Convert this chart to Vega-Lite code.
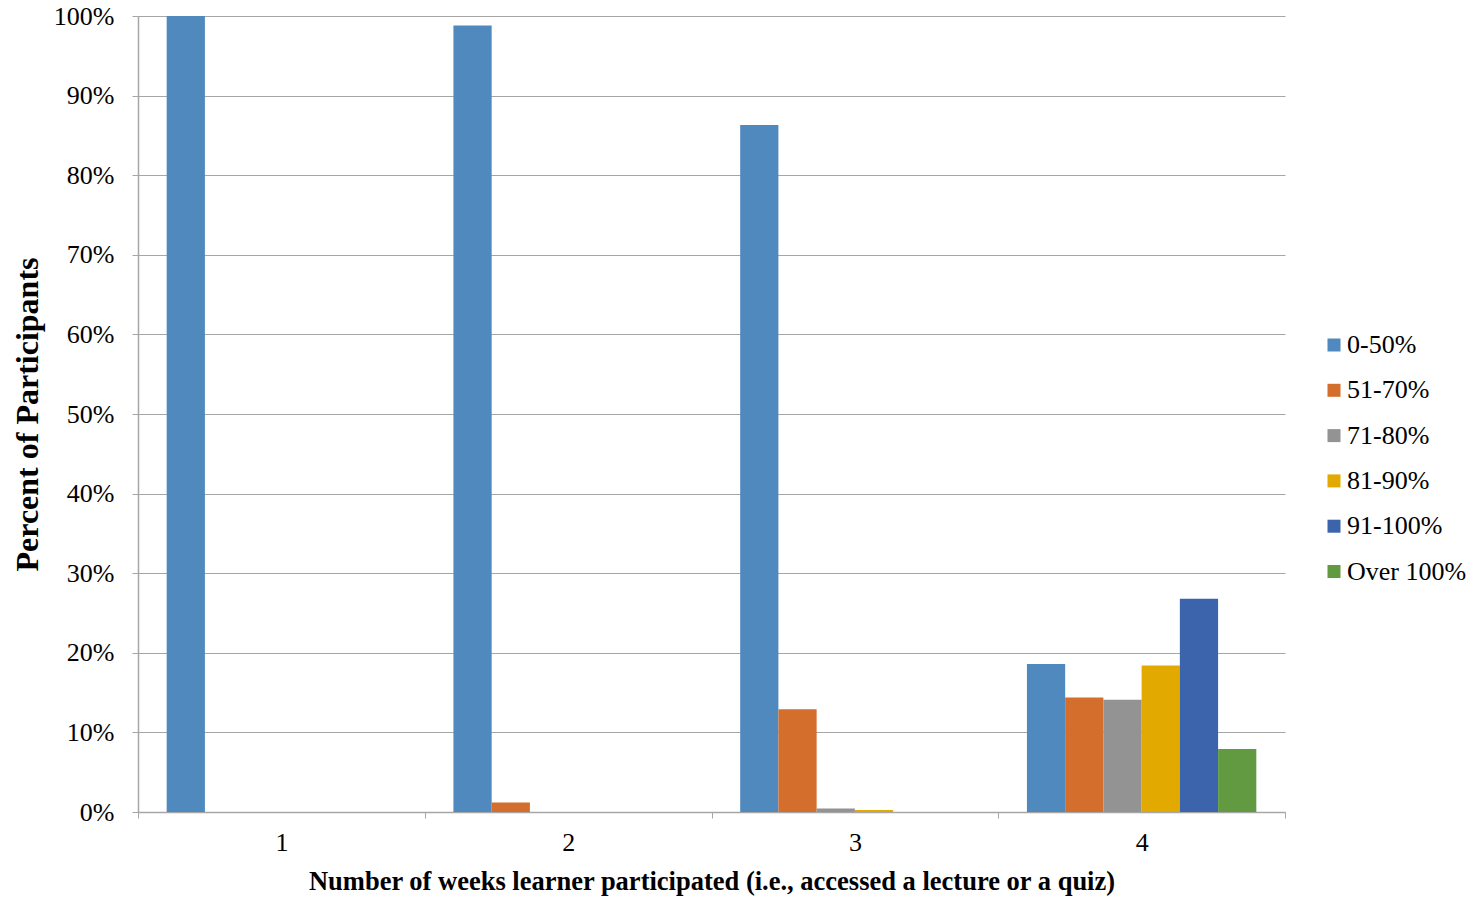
{
  "$schema": "https://vega.github.io/schema/vega-lite/v6.json",
  "width": 1147,
  "height": 796,
  "autosize": "none",
  "padding": {"left": 138, "top": 16, "right": 188, "bottom": 88},
  "background": "white",
  "data": {
    "values": [
      {"week": "1", "score": "0-50%", "pct": 100},
      {"week": "1", "score": "51-70%", "pct": 0},
      {"week": "1", "score": "71-80%", "pct": 0},
      {"week": "1", "score": "81-90%", "pct": 0},
      {"week": "1", "score": "91-100%", "pct": 0},
      {"week": "1", "score": "Over 100%", "pct": 0},
      {"week": "2", "score": "0-50%", "pct": 98.8},
      {"week": "2", "score": "51-70%", "pct": 1.2},
      {"week": "2", "score": "71-80%", "pct": 0},
      {"week": "2", "score": "81-90%", "pct": 0},
      {"week": "2", "score": "91-100%", "pct": 0},
      {"week": "2", "score": "Over 100%", "pct": 0},
      {"week": "3", "score": "0-50%", "pct": 86.3},
      {"week": "3", "score": "51-70%", "pct": 12.9},
      {"week": "3", "score": "71-80%", "pct": 0.45},
      {"week": "3", "score": "81-90%", "pct": 0.25},
      {"week": "3", "score": "91-100%", "pct": 0},
      {"week": "3", "score": "Over 100%", "pct": 0},
      {"week": "4", "score": "0-50%", "pct": 18.6},
      {"week": "4", "score": "51-70%", "pct": 14.4},
      {"week": "4", "score": "71-80%", "pct": 14.1},
      {"week": "4", "score": "81-90%", "pct": 18.4},
      {"week": "4", "score": "91-100%", "pct": 26.8},
      {"week": "4", "score": "Over 100%", "pct": 7.9}
    ]
  },
  "config": {
    "font": "Liberation Serif",
    "view": {"stroke": null},
    "axis": {"labelFont": "Liberation Serif", "titleFont": "Liberation Serif", "labelColor": "black", "titleColor": "black"}
  },
  "mark": {"type": "bar"},
  "encoding": {
    "x": {
      "field": "week",
      "type": "nominal",
      "scale": {"paddingInner": 0, "paddingOuter": 0},
      "axis": {
        "title": "Number of weeks learner participated (i.e., accessed a lecture or a quiz)",
        "titleFontSize": 26.5,
        "titleFontWeight": "bold",
        "titlePadding": 13,
        "labelAngle": 0,
        "labelFontSize": 26,
        "labelPadding": 11,
        "tickBand": "extent",
        "tickSize": 6,
        "tickColor": "#a6a6a6",
        "domainColor": "#a6a6a6",
        "domainWidth": 1.5,
        "grid": false
      }
    },
    "xOffset": {
      "field": "score",
      "type": "nominal",
      "scale": {"paddingInner": 0, "paddingOuter": 0.75}
    },
    "y": {
      "field": "pct",
      "type": "quantitative",
      "scale": {"domain": [0, 100], "nice": false},
      "axis": {
        "title": "Percent of Participants",
        "titleFontSize": 32,
        "titleFontWeight": "bold",
        "titlePadding": 9,
        "values": [0, 10, 20, 30, 40, 50, 60, 70, 80, 90, 100],
        "labelExpr": "datum.value + '%'",
        "labelFontSize": 26,
        "labelPadding": 18,
        "tickSize": 6,
        "tickColor": "#a6a6a6",
        "domainColor": "#a6a6a6",
        "domainWidth": 1.5,
        "gridColor": "#a6a6a6",
        "gridWidth": 1.2
      }
    },
    "color": {
      "field": "score",
      "type": "nominal",
      "scale": {
        "domain": ["0-50%", "51-70%", "71-80%", "81-90%", "91-100%", "Over 100%"],
        "range": ["#4f89bd", "#d36e2c", "#939393", "#e2a900", "#3b64ad", "#629a41"]
      },
      "legend": {
        "title": null,
        "orient": "none",
        "legendX": 1183,
        "legendY": 316,
        "symbolType": "square",
        "symbolSize": 169,
        "symbolStrokeWidth": 0,
        "labelFontSize": 26,
        "labelFont": "Liberation Serif",
        "labelColor": "black",
        "rowPadding": 19.3,
        "labelOffset": 0,
        "labelLimit": 300
      }
    }
  }
}
